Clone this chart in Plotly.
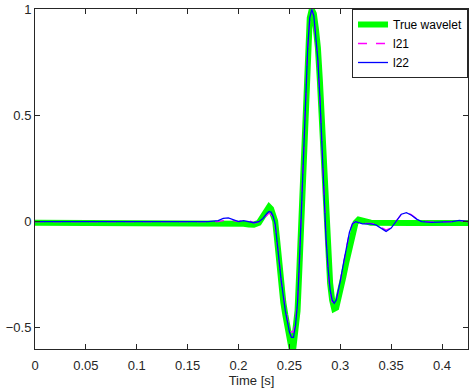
import plotly.graph_objects as go

# Time axis [s]
time = [0.000, 0.020, 0.040, 0.060, 0.080, 0.100, 0.120, 0.140, 0.160, 0.170,
        0.180, 0.185, 0.190, 0.195, 0.200, 0.205, 0.210, 0.215, 0.220, 0.224,
        0.228, 0.230, 0.232, 0.234, 0.236, 0.238, 0.240, 0.242, 0.244, 0.246,
        0.248, 0.250, 0.252, 0.254, 0.256, 0.258, 0.260, 0.262, 0.264, 0.266,
        0.268, 0.270, 0.272, 0.274, 0.276, 0.278, 0.280, 0.282, 0.284, 0.286,
        0.288, 0.290, 0.292, 0.294, 0.296, 0.298, 0.300, 0.303, 0.306, 0.309,
        0.312, 0.315, 0.318, 0.322, 0.326, 0.330, 0.335, 0.340, 0.345, 0.350,
        0.355, 0.360, 0.365, 0.370, 0.375, 0.380, 0.390, 0.400, 0.410, 0.417,
        0.4255]

true_wavelet = [-0.005, -0.005, -0.005, -0.005, -0.005, -0.005, -0.005, -0.005, -0.005, -0.005,
                -0.005, -0.005, -0.005, -0.006, -0.008, -0.010, -0.013, -0.014, -0.005, 0.025,
                0.060, 0.070, 0.060, 0.035, 0.003, -0.090, -0.200, -0.300, -0.380, -0.440,
                -0.500, -0.550, -0.595, -0.590, -0.520, -0.420, -0.200, 0.060, 0.340, 0.600,
                0.830, 0.960, 1.000, 0.980, 0.910, 0.820, 0.660, 0.480, 0.200, 0.000,
                -0.170, -0.290, -0.370, -0.410, -0.405, -0.370, -0.330, -0.260, -0.190, -0.120,
                -0.050, -0.005, 0.010, 0.008, 0.000, -0.005, -0.006, -0.006, -0.006, -0.006,
                -0.006, -0.006, -0.006, -0.006, -0.006, -0.006, -0.006, -0.006, -0.006, -0.006,
                -0.006]

l21 = [0.000, 0.000, 0.002, 0.000, 0.001, 0.000, 0.002, 0.000, 0.001, 0.000,
       0.000, 0.005, 0.010, 0.005, 0.000, 0.010, 0.005, -0.005, -0.002, 0.010,
       0.033, 0.040, 0.035, 0.015, -0.020, -0.095, -0.190, -0.280, -0.350, -0.410,
       -0.460, -0.500, -0.520, -0.520, -0.470, -0.370, -0.170, 0.080, 0.350, 0.600,
       0.820, 0.950, 1.000, 0.970, 0.880, 0.760, 0.580, 0.360, 0.120, -0.080,
       -0.230, -0.330, -0.380, -0.390, -0.375, -0.335, -0.285, -0.200, -0.120, -0.050,
       -0.010, 0.000, -0.003, -0.008, -0.008, -0.008, -0.012, -0.025, -0.040, -0.028,
       0.005, 0.035, 0.045, 0.032, 0.014, 0.002, -0.002, -0.002, 0.000, 0.005,
       0.000]

l22 = [0.000, 0.000, 0.002, 0.000, 0.002, 0.000, 0.002, 0.000, 0.002, 0.000,
       0.005, 0.015, 0.018, 0.008, 0.000, 0.005, 0.000, -0.005, 0.000, 0.015,
       0.040, 0.048, 0.045, 0.025, -0.010, -0.090, -0.190, -0.280, -0.360, -0.420,
       -0.470, -0.520, -0.545, -0.545, -0.490, -0.380, -0.170, 0.080, 0.350, 0.600,
       0.820, 0.960, 1.000, 0.970, 0.880, 0.760, 0.580, 0.360, 0.120, -0.080,
       -0.220, -0.320, -0.370, -0.385, -0.370, -0.330, -0.280, -0.200, -0.120, -0.050,
       -0.010, 0.000, -0.005, -0.010, -0.010, -0.010, -0.015, -0.030, -0.046, -0.030,
       0.005, 0.035, 0.042, 0.030, 0.012, 0.000, -0.003, -0.003, 0.000, 0.006,
       0.000]

x_ticks = [0, 0.05, 0.1, 0.15, 0.2, 0.25, 0.3, 0.35, 0.4]
x_tick_labels = ["0", "0.05", "0.1", "0.15", "0.2", "0.25", "0.3", "0.35", "0.4"]
y_ticks = [-0.5, 0, 0.5, 1]
y_tick_labels = ["\u22120.5", "0", "0.5", "1"]

FONT = "Liberation Sans, Arial, sans-serif"

fig = go.Figure()
fig.add_trace(go.Scatter(x=time, y=true_wavelet, mode="lines", name="True wavelet",
                         line=dict(color="#00ff00", width=6)))
fig.add_trace(go.Scatter(x=time, y=l21, mode="lines", name="l21",
                         line=dict(color="#ff00ff", width=1.3, dash="dash")))
fig.add_trace(go.Scatter(x=time, y=l22, mode="lines", name="l22",
                         line=dict(color="#0000ff", width=1.3)))

axis_common = dict(showline=True, linecolor="#262626", linewidth=1, mirror="ticks",
                   ticks="inside", ticklen=5, tickcolor="#262626", tickwidth=1,
                   showgrid=False, zeroline=False, ticklabeloverflow="allow",
                   tickfont=dict(family=FONT, size=13, color="#262626"))

fig.update_layout(
    width=471, height=388,
    margin=dict(l=35, r=2, t=5, b=39),
    paper_bgcolor="white", plot_bgcolor="white",
    font=dict(family=FONT, size=13, color="#262626"),
    showlegend=True,
    legend=dict(x=1, y=1, xanchor="right", yanchor="top",
                bgcolor="white", bordercolor="#262626", borderwidth=1,
                font=dict(family=FONT, size=12, color="black"),
                tracegroupgap=0),
    xaxis=dict(range=[0, 0.4255], tickvals=x_ticks, ticktext=x_tick_labels,
               ticklabelstandoff=4,
               title=dict(text="Time [s]", standoff=3,
                          font=dict(family=FONT, size=13, color="#262626")),
               **axis_common),
    yaxis=dict(range=[-0.6, 1.002], tickvals=y_ticks, ticktext=y_tick_labels,
               **axis_common),
)

fig.write_html("out.html", config={"displayModeBar": False},
               post_script="document.body.style.margin='0px';")
